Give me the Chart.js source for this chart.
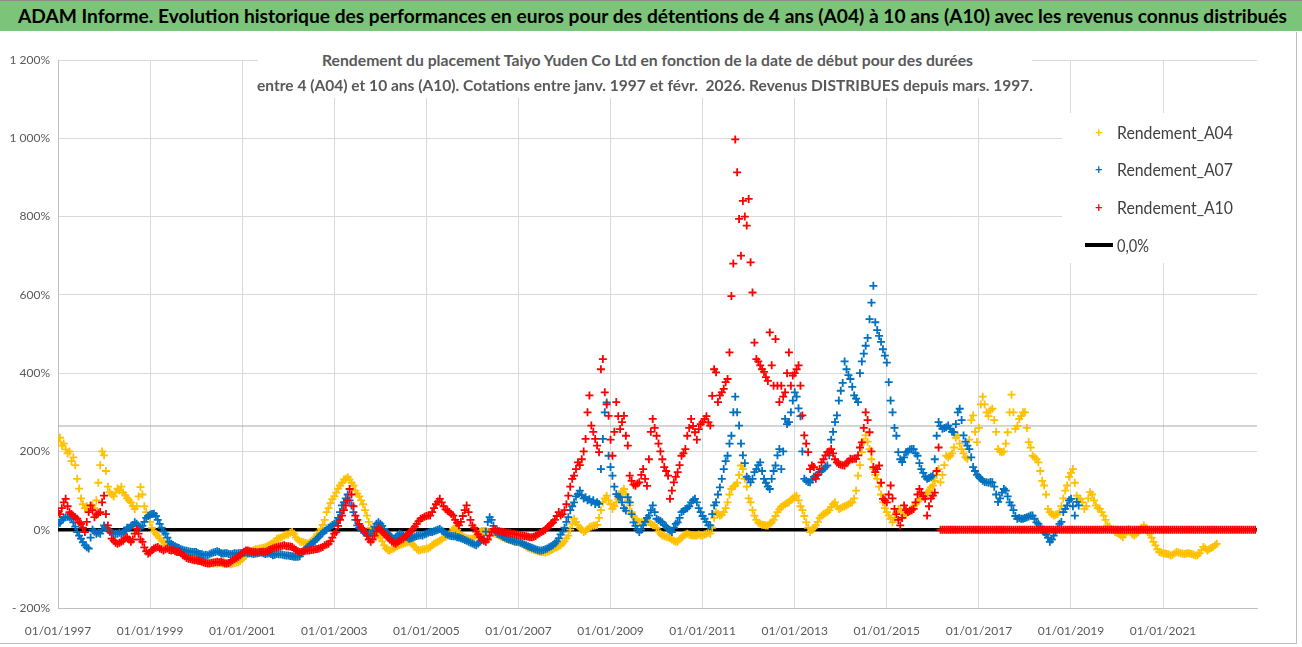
<!DOCTYPE html>
<html><head><meta charset="utf-8">
<script src="https://cdn.jsdelivr.net/npm/chart.js@4/dist/chart.umd.min.js"></script>
<style>
html,body{margin:0;padding:0;background:#fff;}
body{width:1302px;height:647px;position:relative;overflow:hidden;font-family:Lato,'Open Sans',sans-serif;}
#c{position:absolute;left:0;top:0;}
.fit{position:absolute;display:inline-block;white-space:nowrap;transform-origin:0 50%;}
#bar{position:absolute;left:0;top:0;width:1302px;height:31px;background:#7CC47A;border-top:1px solid #8c8c8c;box-sizing:border-box;}
#title{left:18px;top:3px;font-weight:bold;font-size:18.5px;line-height:24px;color:#000;}
#subbox{position:absolute;left:258px;top:45px;width:774px;height:53px;background:#fff;}
.sub{font-weight:bold;font-size:15.5px;line-height:20px;color:#595959;}
#legend{position:absolute;left:1062px;top:113px;width:198px;height:150px;background:#fff;}
.li{font-size:18px;line-height:22px;color:#404040;}
.mk{position:absolute;font-size:13px;line-height:14px;font-weight:bold;}
.ln{position:absolute;left:23px;width:28px;height:4px;background:#000;}
#fr{position:absolute;left:0;top:32px;width:1296px;height:611px;border-right:1px solid #bfbfbf;border-bottom:1px solid #bfbfbf;pointer-events:none;}
</style></head>
<body>
<canvas id="c" width="1302" height="647"></canvas>
<div id="fr"></div>
<div id="bar"><span id="title" class="fit" data-w="1269">ADAM Informe. Evolution historique des performances en euros pour des détentions de 4 ans (A04) à 10 ans (A10) avec les revenus connus distribués</span></div>
<div id="subbox">
  <span class="fit sub" data-w="651" style="left:64px;top:5px">Rendement du placement Taiyo Yuden Co Ltd en fonction de la date de début pour des durées</span>
  <span class="fit sub" data-w="776" style="left:-1px;top:30px">entre 4 (A04) et 10 ans (A10). Cotations entre janv. 1997 et févr.&nbsp; 2026. Revenus DISTRIBUES depuis mars. 1997.</span>
</div>
<div id="legend">
  <span class="mk" style="left:33px;top:12px;color:#FFC000">+</span><span class="fit li" data-w="116" style="left:55px;top:8px">Rendement_A04</span>
  <span class="mk" style="left:33px;top:49px;color:#0070C0">+</span><span class="fit li" data-w="116" style="left:55px;top:45px">Rendement_A07</span>
  <span class="mk" style="left:33px;top:87px;color:#FF0000">+</span><span class="fit li" data-w="116" style="left:55px;top:83px">Rendement_A10</span>
  <div class="ln" style="top:130px"></div><span class="fit li" data-w="32" style="left:55px;top:121px">0,0%</span>
</div>
<script>
// Half-monthly series starting January 1997 (values in %)
const startYear = 1997;
const stepsPerYear = 24;
const tickYears = [1997, 1999, 2001, 2003, 2005, 2007, 2009, 2011, 2013, 2015, 2017, 2019, 2021];
const axisEnd = 2023.04;
const refLevel = 265;
const zeroLevel = 0;

const a04 = [
 225,235,215,220,205,195,200,175,185,165,130,105,80,65,55,60,50,58,62,55,75,120,165,200,
 190,150,110,96,90,85,95,105,100,110,95,88,80,75,70,60,53,60,85,109,90,60,45,35,
 20,5,-5,-10,-15,-22,-28,-31,-35,-38,-42,-45,-48,-50,-55,-52,-55,-58,-60,-62,-65,-68,-70,-74,
 -76,-78,-80,-79,-82,-83,-84,-85,-84,-86,-85,-86,-84,-85,-86,-84,-86,-87,-88,-86,-85,-84,-83,-80,
 -75,-70,-65,-60,-57,-55,-52,-50,-50,-48,-48,-46,-45,-42,-40,-36,-35,-30,-23,-22,-20,-18,-15,-12,
 -12,-8,-6,-10,-20,-25,-30,-31,-32,-34,-35,-33,-30,-25,-20,-12,-5,2,12,25,45,55,68,78,
 85,95,105,113,120,128,130,134,128,120,113,100,92,85,75,65,50,36,20,5,-2,-8,-12,-15,
 -20,-30,-40,-48,-52,-53,-50,-48,-45,-42,-40,-38,-36,-34,-32,-31,-33,-38,-44,-50,-53,-52,-50,-50,
 -48,-48,-45,-40,-36,-33,-31,-28,-25,-20,-18,-15,-12,-5,2,6,0,-8,-15,-18,-20,-22,-23,-23,
 -23,-20,-15,-10,-5,-3,-3,-4,-5,-6,-6,-8,-10,-12,-15,-18,-20,-23,-24,-25,-27,-28,-30,-31,
 -31,-33,-36,-40,-43,-46,-48,-50,-52,-53,-55,-56,-57,-57,-58,-56,-55,-52,-50,-46,-45,-42,-40,-35,
 -30,-22,-15,0,15,28,20,11,5,0,-6,-3,2,6,8,10,11,12,30,50,70,80,87,75,
 65,53,60,70,79,90,98,104,90,75,62,45,35,28,22,20,19,20,22,23,20,15,12,11,
 5,-5,-10,-15,-17,-18,-19,-22,-25,-28,-31,-30,-25,-20,-15,-12,-10,-12,-14,-15,-15,-15,-12,-15,
 -15,-12,-10,-8,-10,5,30,45,40,36,38,45,55,70,90,104,110,113,120,140,164,155,130,110,
 80,70,50,36,25,18,15,13,12,11,11,15,19,25,35,45,52,58,62,65,68,70,75,80,
 85,87,75,60,50,35,19,5,-6,0,5,11,20,30,36,40,42,45,50,58,65,70,60,53,
 55,58,60,62,65,68,70,80,100,138,165,198,225,241,225,206,180,155,140,130,110,90,70,55,
 45,36,28,19,30,45,53,53,45,36,38,45,50,53,60,65,72,79,82,85,87,95,100,108,
 113,125,140,155,121,140,165,189,185,189,195,210,235,241,220,206,195,185,181,230,280,292,250,224,
 260,320,340,320,300,290,305,309,280,250,206,200,198,200,220,249,300,345,300,258,265,283,290,300,
 300,260,224,210,189,185,180,172,150,125,113,90,53,45,40,36,38,40,45,60,80,100,113,135,
 145,155,120,87,80,79,70,53,60,80,96,90,75,62,55,53,45,36,25,11,8,2,0,-6,
 -8,-10,-15,-19,-12,-5,2,-5,-12,-15,-10,-6,0,5,11,5,-6,-10,-20,-31,-40,-50,-57,-58,
 -60,-61,-62,-63,-66,-64,-60,-57,-58,-60,-61,-62,-61,-60,-61,-62,-64,-66,-65,-60,-52,-44,-48,-53,
 -50,-47,-44,-40,-36
];
const a07 = [
 15,18,25,30,32,33,32,28,19,8,-6,-15,-23,-32,-40,-45,-48,-20,0,-5,-10,-8,-10,0,
 11,5,0,-3,-8,-10,-10,-10,-8,-10,-8,-2,5,5,8,12,19,15,10,5,10,20,30,35,
 38,40,41,35,25,15,5,-5,-10,-20,-31,-36,-40,-42,-45,-47,-50,-51,-53,-54,-55,-56,-57,-57,
 -57,-60,-62,-63,-65,-64,-65,-63,-60,-58,-57,-55,-57,-60,-61,-60,-60,-62,-63,-62,-60,-61,-60,-60,
 -60,-59,-58,-60,-60,-61,-62,-61,-60,-59,-58,-60,-62,-61,-60,-62,-65,-64,-62,-63,-63,-64,-65,-66,
 -66,-67,-68,-69,-69,-69,-68,-60,-55,-50,-44,-40,-36,-32,-28,-23,-18,-12,-8,-3,0,5,8,12,
 15,19,30,45,62,70,80,90,75,62,45,25,11,5,0,-3,-8,-12,-15,-10,-2,8,15,19,
 15,10,2,-6,-10,-15,-20,-23,-20,-15,-10,-12,-15,-18,-20,-23,-22,-20,-18,-16,-15,-14,-15,-12,
 -10,-8,-6,-6,-4,-2,0,2,-2,-5,-10,-12,-15,-16,-17,-17,-19,-20,-22,-24,-26,-28,-31,-33,
 -35,-38,-40,-35,-30,-25,-23,-5,20,32,25,10,-6,-10,-12,-15,-18,-20,-23,-25,-26,-28,-30,-31,
 -31,-33,-35,-38,-40,-42,-44,-46,-48,-50,-52,-53,-53,-52,-50,-48,-45,-42,-40,-35,-30,-22,-12,-5,
 5,20,32,50,60,70,85,91,100,88,80,83,75,78,70,75,66,70,66,155,232,300,325,189,
 160,138,110,91,85,83,70,55,49,83,70,40,19,10,0,-6,0,11,20,30,36,50,62,45,
 28,25,22,19,12,8,2,-2,-6,5,15,19,30,45,48,53,55,60,70,75,79,70,55,45,
 35,28,20,11,11,40,62,70,90,108,130,155,175,189,220,240,300,340,300,266,220,190,170,135,
 130,121,130,147,155,165,172,150,130,120,110,104,130,150,164,190,206,155,200,283,270,275,300,330,
 351,340,310,290,200,130,125,122,121,128,135,138,140,147,150,155,160,164,190,230,250,275,292,330,
 355,375,430,410,395,385,365,343,335,326,400,430,450,470,490,538,580,623,530,510,495,480,461,445,
 427,377,330,300,260,240,198,180,173,185,198,200,205,206,206,195,189,170,155,145,135,130,132,135,
 138,180,240,275,265,258,260,262,266,258,250,249,270,300,309,280,241,225,215,206,185,160,150,140,
 135,130,125,122,121,120,122,121,110,90,71,80,95,104,100,85,70,62,50,35,28,30,28,28,
 30,32,34,36,36,28,19,15,8,0,-6,-12,-20,-31,-25,-15,-5,2,15,20,45,53,62,75,
 79,60,36,71,62
];
const a10 = [
 45,40,55,70,79,60,45,40,35,32,28,19,15,5,-6,20,45,62,50,32,38,42,45,70,
 87,40,11,-5,-23,-28,-33,-36,-33,-31,-28,-22,-19,-25,-31,-25,-10,2,-10,-25,-31,-45,-55,-61,
 -58,-52,-48,-46,-44,-48,-50,-53,-50,-48,-52,-53,-52,-55,-57,-57,-60,-65,-68,-72,-74,-75,-77,-78,
 -78,-79,-80,-82,-84,-85,-86,-86,-85,-84,-83,-82,-83,-82,-84,-86,-86,-85,-82,-78,-75,-72,-69,-65,
 -60,-56,-53,-53,-55,-56,-57,-57,-58,-57,-57,-56,-57,-55,-52,-50,-48,-46,-45,-43,-42,-41,-40,-42,
 -42,-43,-44,-48,-52,-55,-57,-57,-55,-54,-53,-53,-52,-51,-50,-49,-48,-46,-44,-40,-38,-36,-30,-20,
 -10,-6,10,25,36,50,62,75,104,90,60,36,25,15,5,2,-5,-15,-25,-31,-25,-15,-5,5,
 0,-5,-10,-15,-20,-25,-30,-33,-36,-32,-28,-25,-23,-18,-12,-8,-4,2,8,15,22,28,30,33,
 35,36,36,45,55,65,72,79,70,60,52,49,45,40,36,25,18,11,20,35,50,62,45,25,
 11,5,-5,-12,-19,-25,-28,-31,-25,-15,-5,2,0,-2,-4,-5,-6,-7,-8,-8,-9,-10,-11,-12,
 -13,-14,-15,-16,-17,-18,-19,-19,-18,-16,-12,-9,-6,-3,0,5,10,15,19,25,35,45,36,40,
 50,65,87,110,130,138,155,172,165,180,200,232,300,343,266,250,232,215,198,410,436,351,320,291,
 230,189,250,326,290,257,275,291,240,215,138,125,115,112,118,121,140,155,130,112,180,250,283,260,
 240,220,200,180,160,150,138,79,100,121,135,147,165,189,195,206,240,260,283,265,249,230,257,270,
 275,283,290,274,266,342,410,402,326,343,351,360,377,385,453,597,680,997,913,794,700,840,800,777,
 845,683,606,478,436,430,420,410,403,390,380,504,420,368,487,368,326,368,340,351,400,453,368,394,
 400,410,420,368,292,241,220,198,155,164,160,130,140,155,172,180,190,198,200,206,195,180,172,168,
 166,165,164,170,175,181,180,181,181,190,210,223,260,300,280,249,200,160,147,155,164,120,79,75,
 70,90,113,80,53,40,25,11,30,62,50,45,48,50,53,70,90,104,95,85,79,36,60,80,
 87,95,150,210,
 0,0,0,0,0,0,0,0,0,0,0,0,0,0,0,
 0,0,0,0,0,0,0,0,0,0,0,0,0,0,0,
 0,0,0,0,0,0,0,0,0,0,0,0,0,0,0,
 0,0,0,0,0,0,0,0,0,0,0,0,0,0,0,
 0,0,0,0,0,0,0,0,0,0,0,0,0,0,0,
 0,0,0,0,0,0,0,0,0,0,0,0,0,0,0,
 0,0,0,0,0,0,0,0,0,0,0,0,0,0,0,
 0,0,0,0,0,0,0,0,0,0,0,0,0,0,0,
 0,0,0,0,0,0,0,0,0,0,0,0,0,0,0,
 0,0,0,0,0,0,0,0,0,0,0,0,0,0,0,
 0,0,0,0,0,0,0,0,0,0,0,0,0,0,0
];

const toPts = arr => arr.map((v, i) => ({x: startYear + i / stepsPerYear, y: v}));
const FONT = "Lato, 'Open Sans', sans-serif";
const fmtY = v => {
  const s = Math.abs(v).toString().replace(/\B(?=(\d{3})+(?!\d))/g, ' ');
  return (v < 0 ? '- ' : '') + s + '%';
};
const scatterDs = (label, arr, color, order) => ({
  type: 'scatter', label, data: toPts(arr), order,
  pointStyle: 'cross', pointRadius: 4, pointBorderWidth: 1.8,
  borderColor: color, backgroundColor: color, showLine: false
});

new Chart(document.getElementById('c'), {
  type: 'scatter',
  data: {
    datasets: [
      scatterDs('Rendement_A10', a10, '#FF0000', 1),
      scatterDs('Rendement_A07', a07, '#0070C0', 2),
      scatterDs('Rendement_A04', a04, '#FFC000', 3),
      {type: 'line', label: 'ref', data: [{x: startYear, y: refLevel}, {x: axisEnd, y: refLevel}],
       borderColor: '#ababab', borderWidth: 1, pointRadius: 0, order: 4},
      {type: 'line', label: '0,0%', data: [{x: startYear, y: zeroLevel}, {x: axisEnd, y: zeroLevel}],
       borderColor: '#000000', borderWidth: 3.5, pointRadius: 0, order: 5}
    ]
  },
  options: {
    responsive: false, animation: false, devicePixelRatio: 1,
    layout: {padding: {left: 0, right: 45, top: 60, bottom: 0}},
    plugins: {legend: {display: false}, tooltip: {enabled: false}, title: {display: false}},
    scales: {
      x: {
        type: 'linear', min: startYear, max: axisEnd,
        afterBuildTicks: ax => { ax.ticks = tickYears.map(v => ({value: v})); },
        afterFit: ax => { ax.height = 39; },
        grid: {color: '#d9d9d9', drawTicks: false},
        border: {color: '#bfbfbf'},
        ticks: {callback: v => '01/01/' + v, color: '#595959', font: {size: 12, family: FONT},
                maxRotation: 0, autoSkip: false, padding: 16}
      },
      y: {
        min: -200, max: 1200,
        afterFit: ax => { ax.width = 58; },
        grid: {color: '#d9d9d9', drawTicks: false},
        border: {color: '#bfbfbf'},
        ticks: {stepSize: 200, callback: v => fmtY(v), color: '#595959', font: {size: 12, family: FONT}, padding: 8}
      }
    }
  }
});

function fitTexts() {
  document.querySelectorAll('.fit').forEach(el => {
    el.style.transform = 'none';
    const w = el.getBoundingClientRect().width;
    if (w > 0) el.style.transform = 'scaleX(' + (+el.dataset.w / w) + ')';
  });
}
fitTexts();
if (document.fonts && document.fonts.ready) document.fonts.ready.then(fitTexts);
</script>
</body></html>
